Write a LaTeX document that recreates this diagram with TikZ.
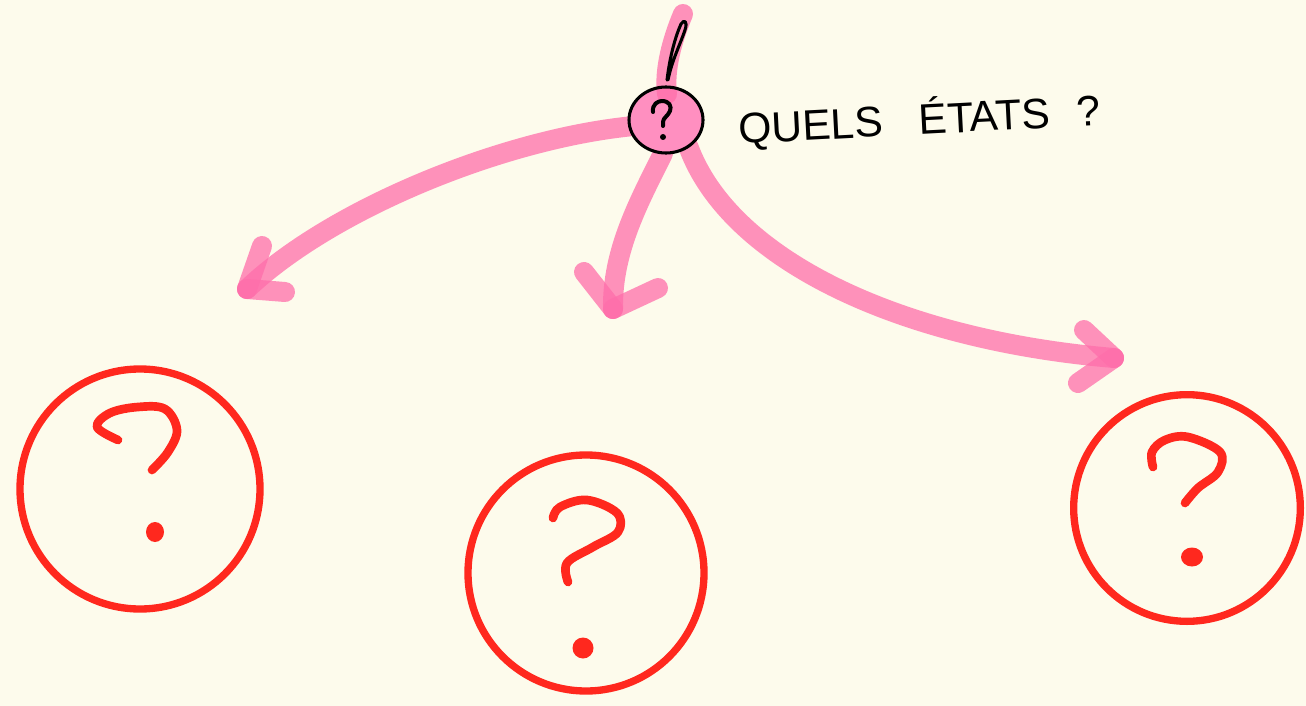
\documentclass[tikz,border=0pt]{standalone}
\usepackage{fontspec}
\setmainfont{Liberation Sans}
\usetikzlibrary{shapes.geometric}
\definecolor{bg}{RGB}{253,251,236}
\definecolor{pinkline}{RGB}{255,110,170}
\definecolor{pinkfill}{RGB}{255,143,192}
\definecolor{redq}{RGB}{255,40,30}
\begin{document}
\begin{tikzpicture}[x=0.75pt,y=-0.75pt,
  pinkstroke/.style={draw=pinkline, draw opacity=0.75, line width=15pt, line cap=round, line join=round},
  redcircle/.style={circle, draw=redq, line width=5.5pt, inner sep=0pt},
  qmark/.style={draw=redq, line width=6.5pt, line cap=round, line join=round},
  qdot/.style={fill=redq},
  ink/.style={draw=black, line width=2.3pt, line cap=round, line join=round},
]
\fill[bg] (0,0) rectangle (1306,706);
\useasboundingbox (0,0) rectangle (1306,706);

% central small node (placeholder for anchors)
\node[ellipse, minimum width=55.5pt, minimum height=49.5pt, inner sep=0pt] (q) at (666,120) {};

% arrow end points
\coordinate (a1) at (247,289);
\coordinate (a2) at (613,309);
\coordinate (a3) at (1114,358);
\coordinate (top) at (683,14);

% pink arrows
\draw[pinkstroke] (q.190) .. controls (500,140) and (330,210) .. (a1);
\draw[pinkstroke] (a1) -- ++(15,-43);
\draw[pinkstroke] (a1) -- ++(38,3);

\draw[pinkstroke] (q.265) .. controls (640,200) and (612,250) .. (a2);
\draw[pinkstroke] (a2) -- ++(-29,-37);
\draw[pinkstroke] (a2) -- ++(45,-21);

\draw[pinkstroke] (q.-50) .. controls (730,260) and (900,340) .. (a3);
\draw[pinkstroke] (a3) -- ++(-30,-28);
\draw[pinkstroke] (a3) -- ++(-36,25);

% small circle fill
\fill[pinkfill] (q.center) ellipse [x radius=37, y radius=33];
% top pink line
\draw[pinkstroke] (top) .. controls (672,40) and (664,70) .. (667,94);
% small circle outline
\draw[ink] (q.center) ellipse [x radius=37, y radius=33];
% black stroke on top line
\draw[ink] (667,80) .. controls (670,55) and (676,35) .. (681,24)
  .. controls (684,19) and (688,21) .. (685,30) .. controls (680,45) and (672,60) .. (668,80);
% small question mark
\draw[ink, line width=3pt] (653,112) .. controls (652,104) and (658,101) .. (662,101)
  .. controls (669,101) and (672,106) .. (670,111) .. controls (668,116) and (663,118) .. (663,122) -- (663,126);
\fill[black] (663,137) circle (3);

% label
\node[anchor=base west, inner sep=0pt, rotate=3, font=\fontsize{32}{32}\selectfont] (lbl) at (739,144)
  {QUELS\hspace{27pt}ÉTATS\hspace{20pt}?};

% red circles
\node[redcircle, minimum size=180pt] (c1) at (140,489) {};
\node[redcircle, minimum size=177pt] (c2) at (586,573) {};
\node[redcircle, minimum size=170pt] (c3) at (1187,508) {};

% red question marks
\draw[qmark] plot[smooth, tension=0.6] coordinates {(118,440) (97,427) (110,413) (138,407) (165,409) (177,430) (168,452) (152,470)};
\fill[qdot] (155,532) ellipse [x radius=9, y radius=10];

\draw[qmark] plot[smooth, tension=0.6] coordinates {(553,518) (560,507) (587,500) (617,513) (618,532) (593,547) (567,563) (568,582)};
\fill[qdot] (583,648) circle (10.5);

\draw[qmark] plot[smooth, tension=0.6] coordinates {(1153,467) (1152,452) (1165,440) (1188,437) (1220,452) (1218,472) (1198,488) (1185,503)};
\fill[qdot] (1192,557) ellipse [x radius=11, y radius=9.5];
\end{tikzpicture}
\end{document}
